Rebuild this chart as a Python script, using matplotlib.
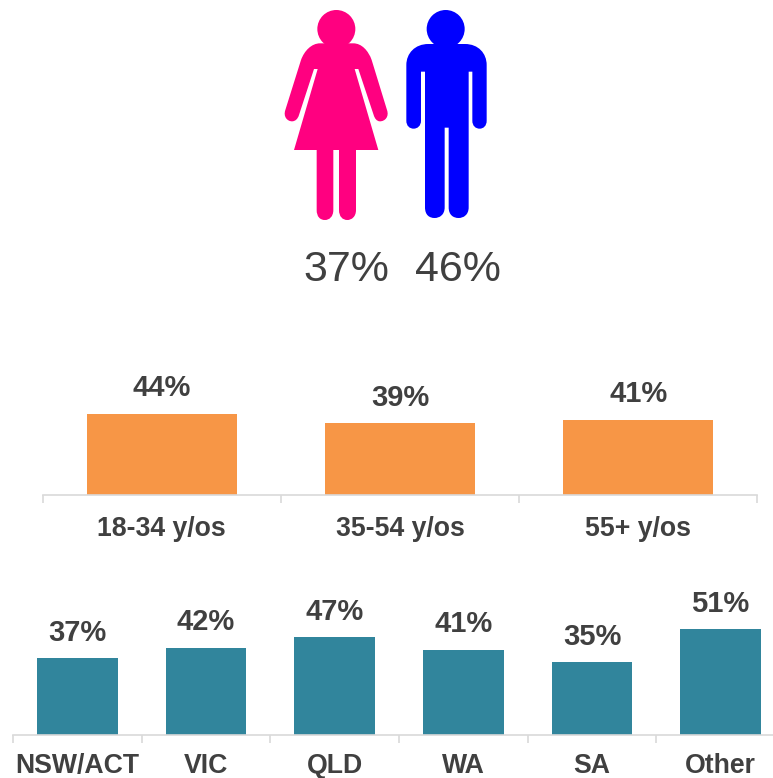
import numpy as np
import matplotlib
matplotlib.use('Agg')
import matplotlib.pyplot as plt
from matplotlib.path import Path
from matplotlib.patches import PathPatch, Circle

female_pct = '37%'
male_pct = '46%'
age_groups = ['18-34 y/os', '35-54 y/os', '55+ y/os']
age_values = [44, 39, 41]
states = ['NSW/ACT', 'VIC', 'QLD', 'WA', 'SA', 'Other']
state_values = [37, 42, 47, 41, 35, 51]

text_col = '#404040'
axis_col = '#d9d9d9'
W, H = 773, 778

plt.rcParams['font.family'] = ['Liberation Sans', 'DejaVu Sans']
fig = plt.figure(figsize=(W / 100, H / 100), dpi=100)


def bar_chart(left, right, base, top, ymax, labels, values, color, val_size, lab_size, lab_pad):
    # axes placed in pixel positions of the figure
    ax = fig.add_axes([left / W, 1 - base / H, (right - left) / W, (base - top) / H])
    x = np.arange(len(labels))
    ax.bar(x, values, width=0.628, color=color)
    ax.set_xlim(-0.5, len(labels) - 0.5)
    ax.set_ylim(0, ymax)
    for xi, v in zip(x, values):
        ax.annotate(f'{v}%', (xi, v), xytext=(0, 8.3), textcoords='offset points', ha='center',
                    va='bottom', fontsize=val_size, fontweight='bold', color=text_col)
    for s in ['top', 'left', 'right']:
        ax.spines[s].set_visible(False)
    ax.spines['bottom'].set_color(axis_col)
    ax.spines['bottom'].set_linewidth(1.2)
    ax.set_yticks([])
    ax.set_xticks(x, labels, fontsize=lab_size, fontweight='bold', color=text_col)
    ax.tick_params(axis='x', which='major', length=0, pad=lab_pad)
    ax.set_xticks(np.arange(len(labels) + 1) - 0.5, minor=True)
    ax.tick_params(axis='x', which='minor', length=5.5, width=1.2, color=axis_col)
    ax.patch.set_alpha(0)
    return ax


bar_chart(42.5, 757.5, 495, 365, 70.6, age_groups, age_values, '#f79646', 21, 19.2, 15)
bar_chart(13, 785, 734.5, 590, 70, states, state_values, '#31859c', 21, 19.2, 13.5)

# overlay in pixel coordinates for the two figures
over = fig.add_axes([0, 0, 1, 1])
over.set_xlim(0, W)
over.set_ylim(H, 0)
over.axis('off')
over.patch.set_alpha(0)


def z(x, y):
    # coordinates measured on the 3x crop starting at x=270
    return (x / 3 + 270, y / 3)


def draw_icon(steps, head, r, color):
    verts, codes = [], []
    for code, pts in steps:
        for p in pts:
            verts.append(z(*p))
            codes.append(code)
    verts.append(verts[0])
    codes.append(Path.CLOSEPOLY)
    over.add_patch(PathPatch(Path(verts, codes), facecolor=color, edgecolor='none'))
    over.add_patch(Circle(z(*head), r / 3, facecolor=color, edgecolor='none'))


M, L, C = Path.MOVETO, Path.LINETO, Path.CURVE4

woman = [
    (M, [(150, 130)]), (L, [(250, 130)]),
    (C, [(275, 130), (295, 152), (305, 180)]),
    (L, [(351, 330)]),
    (C, [(358, 350), (345, 364), (330, 364)]),
    (C, [(320, 364), (314, 355), (311, 345)]),
    (L, [(265, 207), (254, 207), (325, 450), (258, 450), (258, 630)]),
    (C, [(258, 650), (245, 660), (232, 660)]),
    (C, [(218, 660), (207, 650), (207, 630)]),
    (L, [(207, 450), (190, 450), (190, 630)]),
    (C, [(190, 650), (178, 660), (165, 660)]),
    (C, [(150, 660), (140, 650), (140, 630)]),
    (L, [(140, 450), (72, 450), (143, 207), (132, 207), (87, 345)]),
    (C, [(83, 358), (75, 364), (66, 364)]),
    (C, [(52, 364), (39, 350), (46, 330)]),
    (L, [(93, 180)]),
    (C, [(103, 152), (125, 130), (150, 130)]),
]
man = [
    (M, [(475, 132)]), (L, [(585, 132)]),
    (C, [(625, 132), (650, 160), (650, 195)]),
    (L, [(650, 362)]),
    (C, [(650, 378), (640, 386), (629, 386)]),
    (C, [(617, 386), (607, 378), (607, 362)]),
    (L, [(607, 215), (596, 215), (596, 622)]),
    (C, [(596, 645), (580, 654), (566, 654)]),
    (C, [(550, 654), (536, 645), (536, 622)]),
    (L, [(536, 383), (524, 383), (524, 622)]),
    (C, [(524, 645), (508, 654), (494, 654)]),
    (C, [(478, 654), (465, 645), (465, 622)]),
    (L, [(465, 215), (453, 215), (453, 362)]),
    (C, [(453, 378), (442, 386), (431, 386)]),
    (C, [(419, 386), (409, 378), (409, 362)]),
    (L, [(409, 195)]),
    (C, [(409, 160), (435, 132), (475, 132)]),
]
draw_icon(woman, (199, 87), 57, '#ff0080')
draw_icon(man, (527, 87), 57, '#0000ff')

over.text(346.5, 270, female_pct, ha='center', va='center', fontsize=31, color=text_col)
over.text(458, 270, male_pct, ha='center', va='center', fontsize=31, color=text_col)

fig.savefig('out.png', dpi=100)
